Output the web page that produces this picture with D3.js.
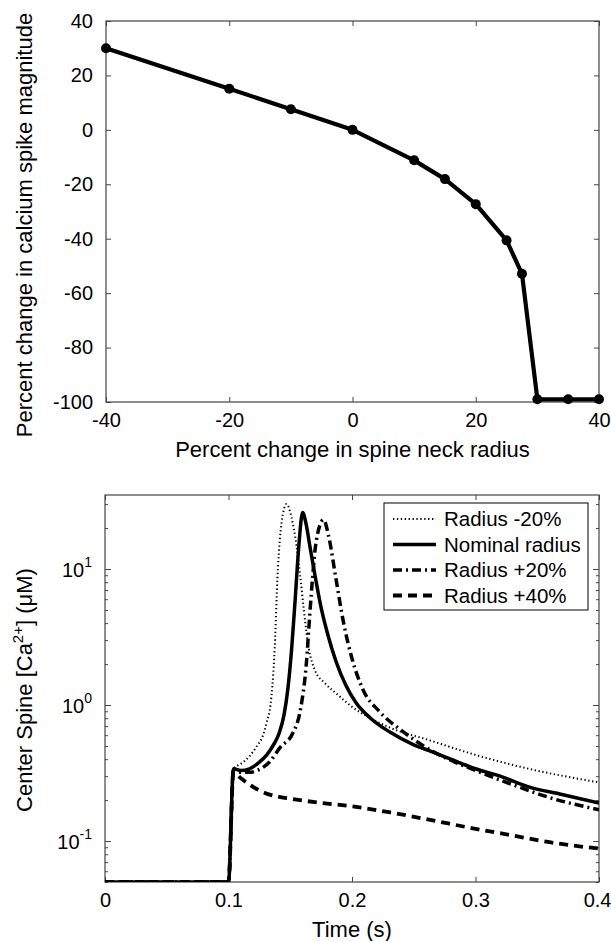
<!DOCTYPE html>
<html>
<head>
<meta charset="utf-8">
<script src="https://cdn.jsdelivr.net/npm/d3@7"></script>
<style>
  body { margin: 0; background: #fff; }
  text { font-family: "Liberation Sans", Arial, sans-serif; fill: #000; }
</style>
</head>
<body>
<div id="chart"></div>
<script>
// top panel: spike magnitude vs spine neck radius
var radiusChange = [-40, -20, -10, 0, 10, 15, 20, 25, 27.5, 30, 35, 40];
var spikeChange = [30, 15.1, 7.6, 0, -11.2, -18.1, -27.3, -40.6, -52.9, -99, -99, -99];
var radiusTicks = [-40, -20, 0, 20, 40];
var spikeTicks = [-100, -80, -60, -40, -20, 0, 20, 40];

// bottom panel: center spine calcium traces (uM)
var tMinus20 = [0, 0.1, 0.104, 0.11, 0.117, 0.123, 0.128, 0.131, 0.134, 0.137, 0.14, 0.143, 0.147, 0.151, 0.155, 0.158, 0.161, 0.165, 0.17, 0.178, 0.188, 0.2, 0.215, 0.231, 0.263, 0.3, 0.343, 0.4];
var cMinus20 = [0.05, 0.05, 0.34, 0.37, 0.42, 0.5, 0.6, 0.75, 1.0, 2.2, 10, 22, 30, 24, 15, 9, 5, 2.6, 1.8, 1.45, 1.2, 0.97, 0.8, 0.68, 0.55, 0.43, 0.34, 0.27];

var tNominal = [0, 0.1, 0.104, 0.11, 0.117, 0.125, 0.131, 0.137, 0.141, 0.145, 0.148, 0.151, 0.154, 0.157, 0.16, 0.163, 0.166, 0.17, 0.175, 0.18, 0.187, 0.195, 0.203, 0.215, 0.231, 0.25, 0.263, 0.28, 0.3, 0.32, 0.343, 0.37, 0.4];
var cNominal = [0.05, 0.05, 0.34, 0.33, 0.34, 0.38, 0.43, 0.52, 0.62, 0.85, 1.3, 2.5, 6, 15, 26, 21, 14.5, 9, 5.2, 3.4, 2.1, 1.4, 1.05, 0.8, 0.63, 0.51, 0.46, 0.4, 0.34, 0.3, 0.25, 0.22, 0.19];

var tPlus20 = [0, 0.1, 0.104, 0.11, 0.117, 0.123, 0.133, 0.142, 0.152, 0.158, 0.163, 0.166, 0.168, 0.171, 0.177, 0.181, 0.187, 0.193, 0.2, 0.209, 0.222, 0.241, 0.263, 0.3, 0.33, 0.359, 0.4];
var cPlus20 = [0.05, 0.05, 0.33, 0.32, 0.32, 0.33, 0.38, 0.49, 0.62, 0.9, 2.0, 4.9, 8.5, 16, 23, 17.6, 8.5, 4.1, 2.2, 1.29, 0.9, 0.64, 0.47, 0.33, 0.26, 0.21, 0.17];

var tPlus40 = [0, 0.1, 0.104, 0.11, 0.117, 0.13, 0.14, 0.15, 0.17, 0.2, 0.23, 0.26, 0.3, 0.33, 0.36, 0.4];
var cPlus40 = [0.05, 0.05, 0.32, 0.29, 0.26, 0.225, 0.212, 0.205, 0.193, 0.18, 0.163, 0.145, 0.123, 0.11, 0.098, 0.088];

var seriesNames = ["Radius -20%", "Nominal radius", "Radius +20%", "Radius +40%"];
var timeTicks = [0, 0.1, 0.2, 0.3, 0.4];

var series = [
  { name: seriesNames[0], t: tMinus20, c: cMinus20, width: 2, dash: "1.3,2.6" },
  { name: seriesNames[1], t: tNominal, c: cNominal, width: 3.5, dash: null },
  { name: seriesNames[2], t: tPlus20, c: cPlus20, width: 3.5, dash: "9,4,2,4" },
  { name: seriesNames[3], t: tPlus40, c: cPlus40, width: 3.8, dash: "9,6" }
];

var width = 611, height = 941;
var tickFont = 20, labelFont = 22, legendFont = 20.5;
var axisColor = "#444";
var hyphen = function(d) { return String(d); };   // plain hyphen minus like the original

var svg = d3.select("#chart").append("svg")
    .attr("width", width)
    .attr("height", height);

function styleAxis(g) {
  g.select(".domain").remove();
  g.selectAll(".tick line").attr("stroke", axisColor);
  g.selectAll(".tick text").attr("font-size", tickFont).attr("font-family", "Liberation Sans, Arial, sans-serif");
}

// ---------- top panel ----------
var x1 = d3.scaleLinear().domain([-40, 40]).range([106, 599]);
var y1 = d3.scaleLinear().domain([-100, 40]).range([402, 21]);

svg.append("g")
    .attr("transform", "translate(0," + y1(-100) + ")")
    .call(d3.axisBottom(x1).tickValues(radiusTicks).tickSize(-5).tickPadding(11).tickFormat(hyphen))
    .call(styleAxis);
svg.append("g")
    .attr("transform", "translate(0," + y1(40) + ")")
    .call(d3.axisTop(x1).tickValues(radiusTicks).tickSize(-5).tickFormat(""))
    .call(styleAxis);
svg.append("g")
    .attr("transform", "translate(" + x1(-40) + ",0)")
    .call(d3.axisLeft(y1).tickValues(spikeTicks).tickSize(-5).tickPadding(13).tickFormat(hyphen))
    .call(styleAxis);
svg.append("g")
    .attr("transform", "translate(" + x1(40) + ",0)")
    .call(d3.axisRight(y1).tickValues(spikeTicks).tickSize(-5).tickFormat(""))
    .call(styleAxis);

svg.append("rect")
    .attr("x", x1(-40)).attr("y", y1(40))
    .attr("width", x1(40) - x1(-40)).attr("height", y1(-100) - y1(40))
    .attr("fill", "none").attr("stroke", axisColor).attr("stroke-width", 1.2);

var topLine = d3.line()
    .x(function(d, i) { return x1(radiusChange[i]); })
    .y(function(d) { return y1(d); });

svg.append("path")
    .attr("d", topLine(spikeChange))
    .attr("fill", "none").attr("stroke", "#000")
    .attr("stroke-width", 4.2).attr("stroke-linejoin", "round");

svg.selectAll(".dot")
    .data(spikeChange)
  .enter().append("circle")
    .attr("class", "dot")
    .attr("cx", function(d, i) { return x1(radiusChange[i]); })
    .attr("cy", function(d) { return y1(d); })
    .attr("r", 5)
    .attr("fill", "#000");

svg.append("text")
    .attr("x", (x1(-40) + x1(40)) / 2).attr("y", 457)
    .attr("text-anchor", "middle").attr("font-size", labelFont)
    .text("Percent change in spine neck radius");

svg.append("text")
    .attr("transform", "translate(32,225) rotate(-90)")
    .attr("text-anchor", "middle").attr("font-size", labelFont)
    .text("Percent change in calcium spike magnitude");

// ---------- bottom panel ----------
var x2 = d3.scaleLinear().domain([0, 0.4]).range([105, 599]);
var y2 = d3.scaleLog().domain([0.05, 35]).range([882, 495]);

svg.append("g")
    .attr("transform", "translate(0," + 882 + ")")
    .call(d3.axisBottom(x2).tickValues(timeTicks).tickSize(-5).tickPadding(11).tickFormat(function(d) { return d === 0 ? "0" : d3.format(".1f")(d); }))
    .call(styleAxis);
svg.append("g")
    .attr("transform", "translate(0," + 495 + ")")
    .call(d3.axisTop(x2).tickValues(timeTicks).tickSize(-5).tickFormat(""))
    .call(styleAxis);

// last time label sits on the page edge, nudge it in a little
svg.selectAll("text").filter(function() { return this.textContent === "0.4"; })
    .attr("text-anchor", "end").attr("x", 12);

// log ticks: majors at decades, minors between
var majorTicks = [0.1, 1, 10];
var minorTicks = [];
[0.01, 0.1, 1, 10].forEach(function(dec) {
  for (var k = 2; k <= 9; k++) {
    var v = dec * k;
    if (v >= 0.05 && v <= 35) minorTicks.push(v);
  }
});

[x2(0), x2(0.4)].forEach(function(px, side) {
  svg.append("g")
      .attr("transform", "translate(" + px + ",0)")
      .call((side === 0 ? d3.axisLeft(y2) : d3.axisRight(y2)).tickValues(minorTicks).tickSize(-3).tickFormat(""))
      .call(styleAxis);
  svg.append("g")
      .attr("transform", "translate(" + px + ",0)")
      .call((side === 0 ? d3.axisLeft(y2) : d3.axisRight(y2)).tickValues(majorTicks).tickSize(-6).tickFormat(""))
      .call(styleAxis);
});

// decade labels with superscript exponents
var decLabels = svg.selectAll(".declabel")
    .data(majorTicks)
  .enter().append("text")
    .attr("class", "declabel")
    .attr("x", 92)
    .attr("y", function(d) { return y2(d) + 8; })
    .attr("text-anchor", "end")
    .attr("font-size", tickFont);
decLabels.append("tspan").text("10");
decLabels.append("tspan")
    .attr("dy", -10).attr("font-size", 14)
    .text(function(d) { return String(Math.round(Math.log10(d))); });

svg.append("rect")
    .attr("x", x2(0)).attr("y", 495)
    .attr("width", x2(0.4) - x2(0)).attr("height", 882 - 495)
    .attr("fill", "none").attr("stroke", axisColor).attr("stroke-width", 1.2);

svg.append("clipPath").attr("id", "clip2")
  .append("rect")
    .attr("x", x2(0)).attr("y", 495)
    .attr("width", x2(0.4) - x2(0)).attr("height", 882 - 495);

var traces = svg.append("g").attr("clip-path", "url(#clip2)");

series.forEach(function(s) {
  var line = d3.line()
      .curve(d3.curveMonotoneX)
      .x(function(d, i) { return x2(s.t[i]); })
      .y(function(d) { return y2(d); });
  traces.append("path")
      .attr("d", line(s.c))
      .attr("fill", "none").attr("stroke", "#000")
      .attr("stroke-width", s.width)
      .attr("stroke-dasharray", s.dash);
});

svg.append("text")
    .attr("x", (x2(0) + x2(0.4)) / 2).attr("y", 937)
    .attr("text-anchor", "middle").attr("font-size", labelFont)
    .text("Time (s)");

var ylab = svg.append("text")
    .attr("transform", "translate(32,690) rotate(-90)")
    .attr("text-anchor", "middle").attr("font-size", labelFont);
ylab.append("tspan").text("Center Spine [Ca");
ylab.append("tspan").attr("dy", -9).attr("font-size", 15).text("2+");
ylab.append("tspan").attr("dy", 9).text("] (\u03bcM)");

// legend
var legend = svg.append("g");
legend.append("rect")
    .attr("x", 384).attr("y", 503)
    .attr("width", 204).attr("height", 107)
    .attr("fill", "#fff").attr("stroke", "#000").attr("stroke-width", 1);

var item = legend.selectAll(".item")
    .data(series)
  .enter().append("g")
    .attr("class", "item")
    .attr("transform", function(d, i) { return "translate(0," + (519 + i * 25.5) + ")"; });

item.append("line")
    .attr("x1", 393).attr("x2", 436)
    .attr("stroke", "#000")
    .attr("stroke-width", function(d) { return d.width; })
    .attr("stroke-dasharray", function(d) { return d.dash; });

item.append("text")
    .attr("x", 444).attr("y", 7)
    .attr("font-size", legendFont)
    .text(function(d) { return d.name; });
</script>
</body>
</html>
